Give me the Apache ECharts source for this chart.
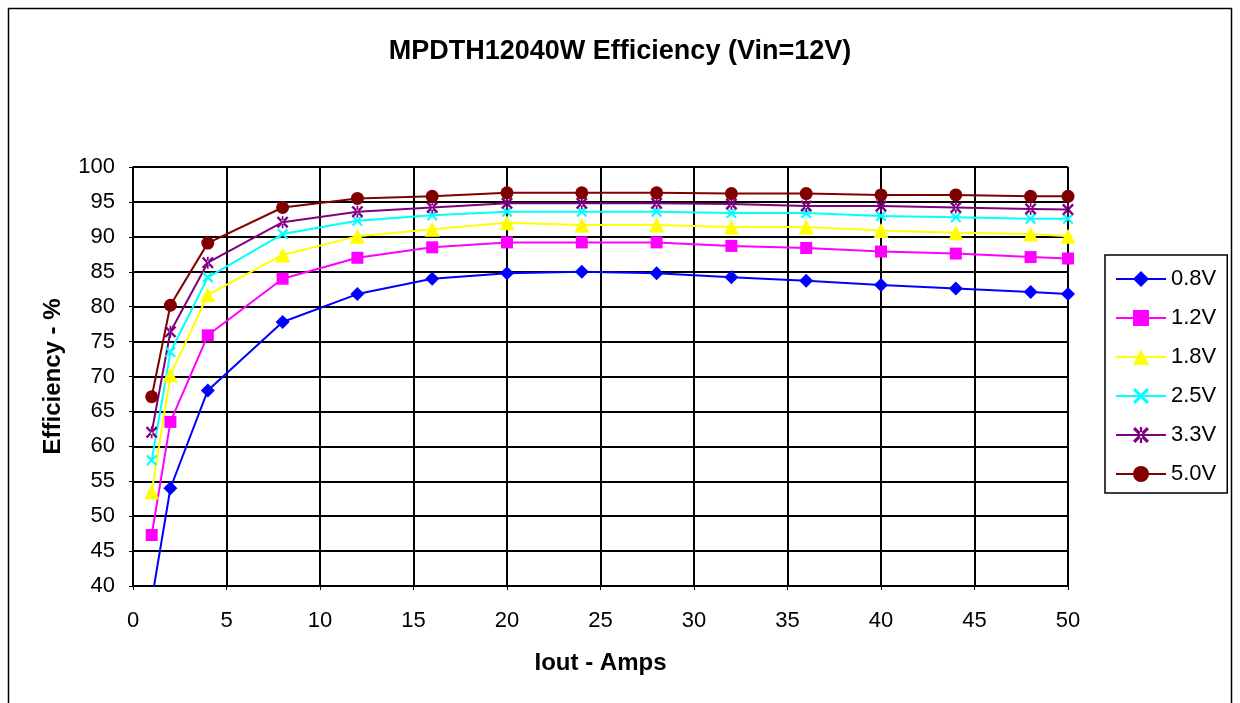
<!DOCTYPE html>
<html><head><meta charset="utf-8">
<script src="https://cdn.jsdelivr.net/npm/echarts@6/dist/echarts.min.js"></script>
<style>html,body{margin:0;padding:0;background:#fff}#c{width:1240px;height:703px}</style>
</head><body><div id="c"></div>
<script>
const iout = [1,2,4,8,12,16,20,24,28,32,36,40,44,48,50];
const v08 = [38.0,54.0,68.0,77.8,81.8,84.0,84.8,85.0,84.8,84.2,83.7,83.1,82.6,82.1,81.8];
const v12 = [47.3,63.5,75.9,84.0,87.0,88.5,89.2,89.2,89.2,88.7,88.4,87.9,87.6,87.1,86.9];
const v18 = [53.5,70.2,81.7,87.4,90.1,91.1,92.0,91.7,91.7,91.4,91.4,90.9,90.6,90.4,90.1];
const v25 = [58.0,73.5,84.2,90.4,92.3,93.1,93.6,93.6,93.6,93.4,93.4,93.0,92.8,92.6,92.6];
const v33 = [62.0,76.4,86.3,92.1,93.6,94.2,94.8,94.8,94.8,94.7,94.4,94.4,94.2,94.0,93.9];
const v50 = [67.1,80.2,89.1,94.2,95.5,95.8,96.3,96.3,96.3,96.2,96.2,96.0,96.0,95.8,95.8];
const seriesNames = ['0.8V','1.2V','1.8V','2.5V','3.3V','5.0V'];
const seriesData = [v08,v12,v18,v25,v33,v50];

const colors = ['#0000FF','#FF00FF','#FFFF00','#00FFFF','#800080','#800000'];
const xPath = 'path://M0,1.4L1.4,0L5,3.6L8.6,0L10,1.4L6.4,5L10,8.6L8.6,10L5,6.4L1.4,10L0,8.6L3.6,5Z';
const starPath = 'path://M0,1.4L1.4,0L5,3.6L8.6,0L10,1.4L6.4,5L10,8.6L8.6,10L5,6.4L1.4,10L0,8.6L3.6,5Z M4.3,0L4.3,10L5.7,10L5.7,0Z';
const symbols = ['diamond','rect','triangle',xPath,starPath,'circle'];
const sizes = [14,12,15,11,12,13];

const chart = echarts.init(document.getElementById('c'));
const F = '"Liberation Sans", Arial, sans-serif';
chart.setOption({
  animation:false,
  backgroundColor:'#fff',
  textStyle:{fontFamily:F},
  title:{text:'MPDTH12040W Efficiency (Vin=12V)',left:'center',top:33,
    textStyle:{fontFamily:F,fontSize:27,fontWeight:'bold',color:'#000'}},
  graphic:[{type:'rect',shape:{x:8.5,y:8.5,width:1223,height:720},
    style:{fill:'none',stroke:'#000',lineWidth:1.5},silent:true}],
  legend:{orient:'vertical',left:1105,top:255,
    data:seriesNames,
    borderColor:'#000',borderWidth:1.5,padding:[13,11,8,10],
    itemWidth:50,itemHeight:20,itemGap:17,
    textStyle:{fontFamily:F,fontSize:22,color:'#000'}},
  grid:{left:133,top:167,width:935,height:419,show:true,borderColor:'#808080',borderWidth:1},
  xAxis:{type:'value',min:0,max:50,interval:5,
    name:'Iout - Amps',nameLocation:'middle',nameGap:65,
    nameTextStyle:{fontFamily:F,fontSize:24,fontWeight:'bold',color:'#000'},
    axisLine:{lineStyle:{color:'#000',width:1.5}},
    axisTick:{show:true,inside:false,length:4,lineStyle:{color:'#000'}},
    axisLabel:{fontFamily:F,fontSize:22,color:'#000',margin:24},
    splitLine:{show:true,lineStyle:{color:'#000',width:2}}},
  yAxis:{type:'value',min:40,max:100,interval:5,
    name:'Efficiency - %',nameLocation:'middle',nameGap:68,
    nameTextStyle:{fontFamily:F,fontSize:24,fontWeight:'bold',color:'#000'},
    axisLine:{show:true,lineStyle:{color:'#000',width:1.5}},
    axisTick:{show:true,inside:false,length:4,lineStyle:{color:'#000'}},
    axisLabel:{fontFamily:F,fontSize:22,color:'#000',margin:18},
    splitLine:{show:true,lineStyle:{color:'#000',width:2}}},
  series: seriesNames.map((n,i)=>({
    name:n,type:'line',
    data: iout.map((x,j)=>[x,seriesData[i][j]]),
    symbol:symbols[i],symbolSize:sizes[i],showAllSymbol:true,
    lineStyle:{color:colors[i],width:2},
    itemStyle:{color:colors[i],borderWidth:0},
    clip:true
  }))
});
</script></body></html>
